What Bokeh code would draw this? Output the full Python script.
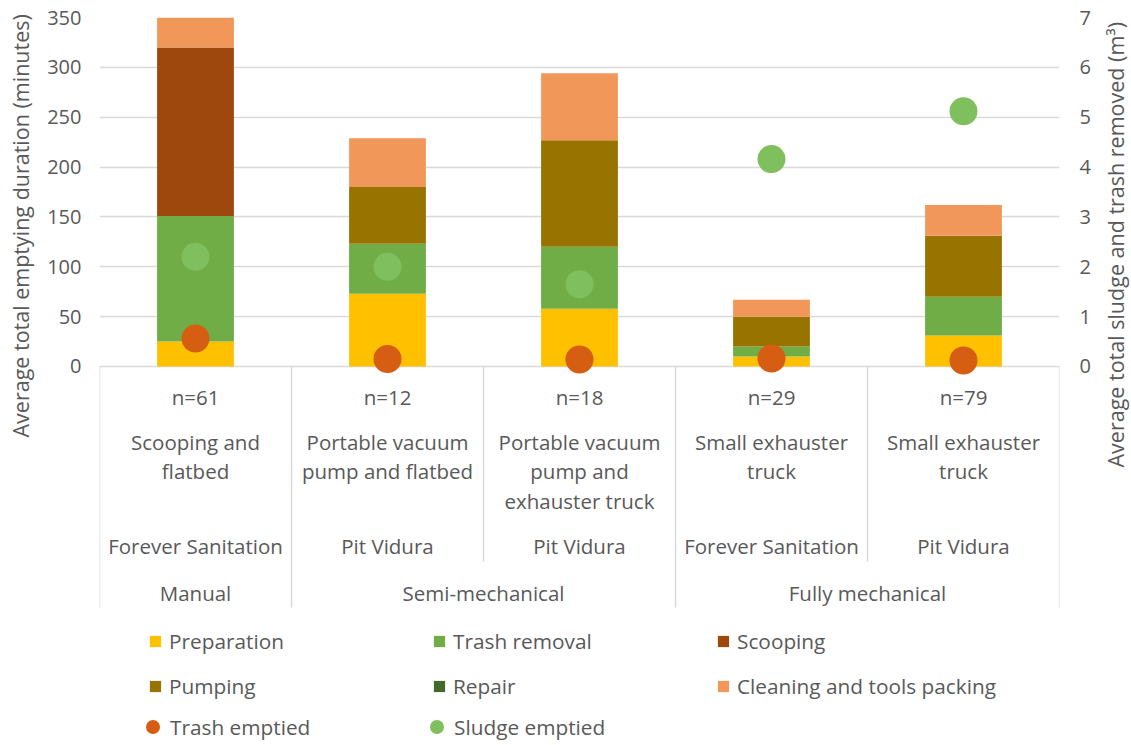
from bokeh.plotting import figure
from bokeh.layouts import row
from bokeh.models import (Range1d, LinearAxis, FixedTicker, Legend, LegendItem,
                          Title, ColumnDataSource)
from bokeh.core.properties import value
from bokeh.embed import file_html
from bokeh.resources import INLINE

# ---------------- data ----------------
sample_sizes = ["n=61", "n=12", "n=18", "n=29", "n=79"]
methods = ["Scooping and\nflatbed",
           "Portable vacuum\npump and flatbed",
           "Portable vacuum\npump and\nexhauster truck",
           "Small exhauster\ntruck",
           "Small exhauster\ntruck"]
companies = ["Forever Sanitation", "Pit Vidura", "Pit Vidura",
             "Forever Sanitation", "Pit Vidura"]
groups = ["Manual", "Semi-mechanical", "Fully mechanical"]
group_spans = [1, 2, 2]

activities = ["Preparation", "Trash removal", "Scooping", "Pumping", "Repair",
              "Cleaning and tools packing"]
preparation = [25, 73, 58, 10, 31]
trash_removal = [126, 50, 62, 10, 39]
scooping = [169, 0, 0, 0, 0]
pumping = [0, 57, 107, 30, 61]
repair = [0, 0, 0, 0, 0]
cleaning = [30, 49, 67, 17, 31]

trash_emptied = [0.56, 0.15, 0.14, 0.16, 0.12]
sludge_emptied = [2.2, 2.0, 1.65, 4.16, 5.12]

left_ticks = [0, 50, 100, 150, 200, 250, 300, 350]
right_ticks = [0, 1, 2, 3, 4, 5, 6, 7]

left_title = "Average total emptying duration (minutes)"
right_title = "Average total sludge and trash removed (m\u00b3)"

# ---------------- style ----------------
colors = ["#FFC000", "#70AD47", "#9E480E", "#997300", "#43682B", "#F1975A"]
trash_color = "#D55E12"
sludge_color = "#80BF5E"
grey = "#595959"
line_grey = "#D9D9D9"
FONT = "Open Sans"
FS = "20.5px"        # category table
FS_LEG = "20.8px"    # legend
FS_TITLE = "21.5px"  # axis titles

H = 745
LEFT_W = 39
MAIN_W = 1059
RIGHT_W = 1131 - LEFT_W - MAIN_W
Y_MIN = -380.1
RATIO = 50.0  # minutes per m3 on the secondary axis

p = figure(width=MAIN_W, height=H, output_backend="svg", toolbar_location=None,
           title=None, x_range=Range1d(0, 5), y_range=Range1d(Y_MIN, 350),
           x_axis_location=None, min_border_left=60, min_border_right=39,
           min_border_top=17, min_border_bottom=0)
p.extra_y_ranges = {"vol": Range1d(Y_MIN / RATIO, 350 / RATIO)}
p.outline_line_color = None
p.background_fill_color = "white"
p.border_fill_color = "white"
p.xgrid.visible = False
p.ygrid.ticker = FixedTicker(ticks=left_ticks)
p.ygrid.grid_line_color = line_grey
p.ygrid.grid_line_width = 1.5

ax = p.yaxis[0]
ax.ticker = FixedTicker(ticks=left_ticks)
ax.axis_line_color = None
ax.major_tick_line_color = None
ax.minor_tick_line_color = None
ax.major_tick_out = 0
ax.major_tick_in = 0
ax.major_label_standoff = 18
ax.major_label_text_font = FONT
ax.major_label_text_font_size = "20px"
ax.major_label_text_color = grey

rax = LinearAxis(y_range_name="vol", ticker=FixedTicker(ticks=right_ticks))
rax.axis_line_color = None
rax.major_tick_line_color = None
rax.minor_tick_line_color = None
rax.major_tick_out = 0
rax.major_tick_in = 0
rax.major_label_standoff = 20
rax.major_label_text_font = FONT
rax.major_label_text_font_size = "20px"
rax.major_label_text_color = grey
p.add_layout(rax, "right")

# ---------------- bars ----------------
xc = [i + 0.5 for i in range(len(sample_sizes))]
keys = ["prep", "trash", "scoop", "pump", "repair", "clean"]
src = ColumnDataSource(dict(x=xc, prep=preparation, trash=trash_removal,
                            scoop=scooping, pump=pumping, repair=repair,
                            clean=cleaning))
bars = p.vbar_stack(keys, x="x", width=0.4, color=colors, line_color=None,
                    source=src)

sl = p.scatter(xc, sludge_emptied, size=28, color=sludge_color,
               line_color=None, y_range_name="vol")
tr = p.scatter(xc, trash_emptied, size=28, color=trash_color,
               line_color=None, y_range_name="vol")

# ---------------- category table ----------------
Y_N = -30.1
Y_METHOD = -76.2
LINE = 29.1
Y_COMP = -180.5
Y_GROUP = -226.7
Y_LONG = -241.7
Y_SHORT = -195.6

txt = dict(text_font=value(FONT), text_font_size=FS, text_color=grey,
           text_align="center", text_baseline="middle")
p.text(x=xc, y=[Y_N] * len(xc), text=sample_sizes, **txt)

mx, my, mt = [], [], []
for i, lab in enumerate(methods):
    for j, line in enumerate(lab.split("\n")):
        mx.append(xc[i])
        my.append(Y_METHOD - j * LINE)
        mt.append(line)
p.text(x=mx, y=my, text=mt, **txt)
p.text(x=xc, y=[Y_COMP] * len(xc), text=companies, **txt)

bounds = [0]
for s in group_spans:
    bounds.append(bounds[-1] + s)
gx = [(bounds[k] + bounds[k + 1]) / 2 for k in range(len(groups))]
p.text(x=gx, y=[Y_GROUP] * len(gx), text=groups, **txt)

sep_x = list(range(len(sample_sizes) + 1))
sep_end = [Y_LONG if b in bounds else Y_SHORT for b in sep_x]
p.segment(x0=sep_x, y0=[0] * len(sep_x), x1=sep_x, y1=sep_end,
          line_color=line_grey, line_width=1.5)

# ---------------- legends ----------------
legA = Legend(items=[LegendItem(label=activities[k], renderers=[bars[k]])
                     for k in range(len(activities))],
              orientation="horizontal", ncols=3, location=(49, 45),
              glyph_width=14, glyph_height=14, label_standoff=7,
              label_width=246, label_height=20, spacing=17, padding=0,
              margin=0, border_line_color=None, background_fill_alpha=0,
              label_text_font=FONT, label_text_font_size=FS_LEG,
              label_text_color=grey)
p.add_layout(legA, "center")

legB = Legend(items=[LegendItem(label="Trash emptied", renderers=[tr]),
                     LegendItem(label="Sludge emptied", renderers=[sl])],
              orientation="horizontal", location=(36, 1),
              glyph_width=35, glyph_height=35, label_standoff=0,
              label_width=249, label_height=20, spacing=0, padding=0,
              margin=0, border_line_color=None, background_fill_alpha=0,
              label_text_font=FONT, label_text_font_size=FS_LEG,
              label_text_color=grey)
p.add_layout(legB, "center")


# ---------------- axis titles (thin side panels, read upward) ----------------
def title_panel(width, text, offset, standoff):
    f = figure(width=width, height=H, output_backend="svg",
               toolbar_location=None, title=None, x_range=Range1d(0, 1),
               y_range=Range1d(0, 1), x_axis_location=None,
               y_axis_location=None, min_border_left=0, min_border_right=0,
               min_border_top=17, min_border_bottom=0)
    f.outline_line_color = None
    f.grid.visible = False
    f.border_fill_color = "white"
    f.background_fill_color = "white"
    f.add_layout(Title(text=text, align="left", offset=offset,
                       vertical_align="bottom", standoff=standoff,
                       text_font=FONT, text_font_size=FS_TITLE,
                       text_color=grey, text_font_style="normal"), "left")
    return f


left_side = title_panel(LEFT_W, left_title, 308, 6)
right_side = title_panel(RIGHT_W, right_title, 278, 0)

layout = row(left_side, p, right_side, spacing=0)
open("out.html", "w").write(file_html(layout, INLINE))
